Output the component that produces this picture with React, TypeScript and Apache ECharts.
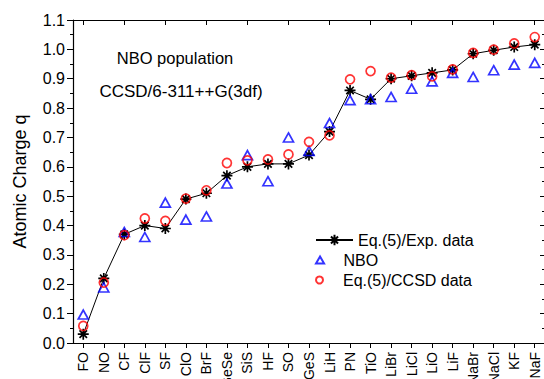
import React, { useEffect, useRef } from "react";
import * as echarts from "echarts";

const categories = ["FO", "NO", "CF", "ClF", "SF", "ClO", "BrF", "GeSe", "SiS", "HF", "SO", "GeS", "LiH", "PN", "TiO", "LiBr", "LiCl", "LiO", "LiF", "NaBr", "NaCl", "KF", "NaF"];
const expData = [0.03, 0.22, 0.37, 0.40, 0.39, 0.49, 0.51, 0.57, 0.60, 0.61, 0.61, 0.64, 0.72, 0.86, 0.83, 0.90, 0.91, 0.92, 0.93, 0.985, 0.997, 1.008, 1.016];
const nboData = [0.097, 0.189, 0.378, 0.361, 0.478, 0.420, 0.431, 0.543, 0.640, 0.551, 0.700, 0.654, 0.749, 0.827, 0.830, 0.838, 0.866, 0.891, 0.920, 0.906, 0.929, 0.948, 0.954];
const ccsdData = [0.058, 0.206, 0.367, 0.424, 0.416, 0.492, 0.520, 0.613, 0.622, 0.625, 0.642, 0.685, 0.707, 0.898, 0.926, 0.904, 0.912, 0.908, 0.932, 0.988, 0.999, 1.020, 1.042];
const seriesNames = ["Eq.(5)/Exp. data", "NBO", "Eq.(5)/CCSD data"];
const annotations = ["NBO population", "CCSD/6-311++G(3df)"];

const STAR = "path://M0 5L10 5M5 0L5 10M1.6 1.6L8.4 8.4M8.4 1.6L1.6 8.4";
const TRI = "path://M5 0L10 8.66L0 8.66Z";
const FONT = "Liberation Sans, Arial, sans-serif";

export default function App() {
  const ref = useRef<HTMLDivElement>(null);
  useEffect(() => {
    if (!ref.current) return;
    const chart = echarts.init(ref.current, null, { renderer: "svg" });
    const yCommon = {
      type: "value",
      min: 0,
      max: 1.1,
      interval: 0.1,
      splitLine: { show: false },
      axisLine: { show: true, lineStyle: { color: "#000", width: 1.2 } },
    };
    const legendBase = {
      orient: "vertical",
      left: 315,
      padding: 0,
      itemWidth: 37,
      textStyle: { fontSize: 16, color: "#000", fontFamily: FONT },
    };
    chart.setOption({
      animation: false,
      backgroundColor: "#fff",
      textStyle: { fontFamily: FONT },
      grid: { left: 73, top: 20, width: 472, height: 323, containLabel: false, outerBoundsMode: "none" },
      graphic: [
        { type: "text", x: 175, y: 58, style: { text: annotations[0], font: `16.5px ${FONT}`, fill: "#000", textAlign: "center", textVerticalAlign: "middle" } },
        { type: "text", x: 181, y: 91, style: { text: annotations[1], font: `17px ${FONT}`, fill: "#000", textAlign: "center", textVerticalAlign: "middle" } },
      ],
      legend: [
        { ...legendBase, top: 232, itemHeight: 13, data: [seriesNames[0]] },
        { ...legendBase, top: 252, itemHeight: 7, data: [{ name: seriesNames[1], icon: TRI }] },
        { ...legendBase, top: 272, itemHeight: 7, data: [{ name: seriesNames[2], icon: "circle" }] },
      ],
      xAxis: [
        {
          type: "category",
          data: categories,
          position: "bottom",
          boundaryGap: true,
          axisLine: { show: true, onZero: false, lineStyle: { color: "#000", width: 1.2 } },
          axisTick: { show: true, alignWithLabel: true, length: 5, lineStyle: { color: "#000" } },
          axisLabel: { rotate: 90, fontSize: 14, color: "#000", margin: 9, interval: 0, fontFamily: FONT },
        },
        {
          type: "category",
          data: categories,
          position: "top",
          boundaryGap: true,
          axisLine: { show: true, onZero: false, lineStyle: { color: "#000", width: 1.2 } },
          axisTick: { show: true, inside: true, alignWithLabel: true, length: 5, lineStyle: { color: "#000" } },
          axisLabel: { show: false },
        },
      ],
      yAxis: [
        {
          ...yCommon,
          position: "left",
          name: "Atomic Charge q",
          nameLocation: "middle",
          nameGap: 44,
          nameTextStyle: { fontSize: 18, color: "#000", fontFamily: FONT },
          axisTick: { show: true, length: 6, lineStyle: { color: "#000" } },
          minorTick: { show: true, splitNumber: 2, length: 3, lineStyle: { color: "#000" } },
          axisLabel: { fontSize: 16, color: "#000", margin: 8, fontFamily: FONT, formatter: (v: number) => v.toFixed(1) },
        },
        {
          ...yCommon,
          position: "right",
          axisTick: { show: true, inside: true, length: 5, lineStyle: { color: "#000" } },
          minorTick: { show: true, splitNumber: 2, length: 3, lineStyle: { color: "#000" } },
          axisLabel: { show: false },
        },
      ],
      series: [
        {
          name: seriesNames[0],
          type: "line",
          data: expData,
          symbol: STAR,
          symbolSize: 11,
          itemStyle: { color: "#000", borderColor: "#000", borderWidth: 1.7 },
          lineStyle: { color: "#000", width: 1 },
          z: 2,
        },
        {
          name: seriesNames[1],
          type: "scatter",
          data: nboData,
          symbol: "triangle",
          symbolSize: [10, 9],
          itemStyle: { color: "rgba(0,0,0,0)", borderColor: "#0000ff", borderWidth: 1.7 },
          z: 3,
        },
        {
          name: seriesNames[2],
          type: "scatter",
          data: ccsdData,
          symbol: "circle",
          symbolSize: 9,
          itemStyle: { color: "rgba(0,0,0,0)", borderColor: "#ff0000", borderWidth: 1.7 },
          z: 4,
        },
      ],
    });
    return () => chart.dispose();
  }, []);
  return <div ref={ref} style={{ position: "absolute", left: 0, top: 0, width: 544, height: 379 }} />;
}
